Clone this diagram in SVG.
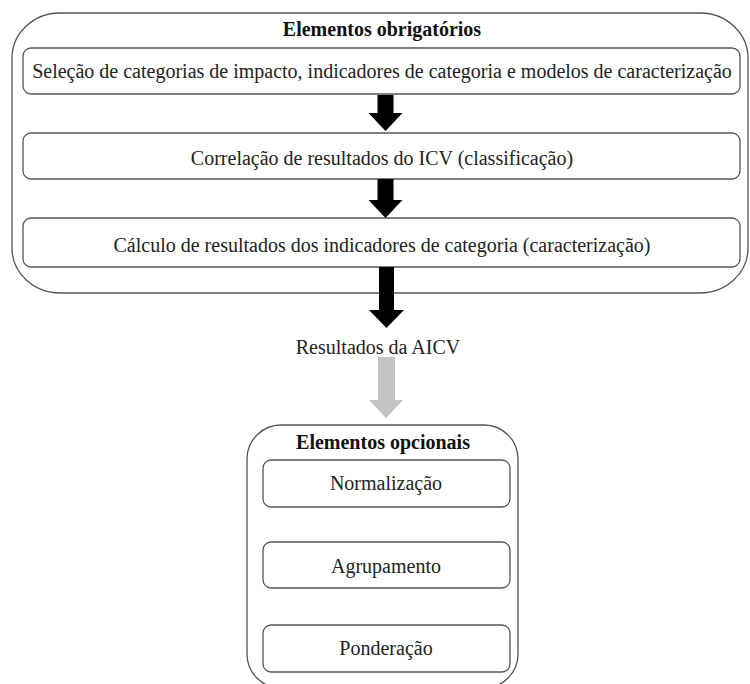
<svg xmlns="http://www.w3.org/2000/svg" width="750" height="684" viewBox="0 0 750 684">
  <style>
    .frame { fill: #fff; stroke: #555; stroke-width: 1.3; }
    .box { fill: #fff; stroke: #555; stroke-width: 1.3; }
    .t { font-family: "Liberation Serif", "Times New Roman", serif; font-size: 20px; fill: #222; text-anchor: middle; }
    .h { font-weight: bold; fill: #111; }
    .arrow-dark { fill: #000; }
    .arrow-light { fill: #c3c3c3; }
  </style>
  <rect width="750" height="684" fill="#fff"/>

  <g id="mandatory">
    <rect class="frame" x="12" y="13" width="736" height="280" rx="48" ry="45"/>
    <text class="t h" x="382" y="36">Elementos obrigatórios</text>
  </g>
  <g id="selection">
    <rect class="box" x="23" y="48" width="717" height="46" rx="8"/>
    <text class="t" x="382" y="78">Seleção de categorias de impacto, indicadores de categoria e modelos de caracterização</text>
  </g>
  <g id="classification">
    <rect class="box" x="23" y="133" width="717" height="46" rx="8"/>
    <text class="t" x="382" y="165">Correlação de resultados do ICV (classificação)</text>
  </g>
  <g id="characterization">
    <rect class="box" x="23" y="218" width="717" height="49" rx="8"/>
    <text class="t" x="382" y="252">Cálculo de resultados dos indicadores de categoria (caracterização)</text>
  </g>

  <g id="results">
    <text class="t" x="378" y="354">Resultados  da AICV</text>
  </g>

  <g id="optional">
    <rect class="frame" x="247" y="425" width="271" height="263" rx="34" ry="34"/>
    <text class="t h" x="383" y="449">Elementos opcionais</text>
  </g>
  <g id="normalization">
    <rect class="box" x="263" y="460" width="247" height="47" rx="8"/>
    <text class="t" x="386" y="490">Normalização</text>
  </g>
  <g id="grouping">
    <rect class="box" x="263" y="542" width="247" height="46" rx="8"/>
    <text class="t" x="386" y="573">Agrupamento</text>
  </g>
  <g id="weighting">
    <rect class="box" x="263" y="625" width="247" height="47" rx="8"/>
    <text class="t" x="386" y="655">Ponderação</text>
  </g>

  <g id="connectors">
    <polygon class="arrow-dark" points="377.5,95 393.5,95 393.5,113 402.5,113 385.5,131 368.5,113 377.5,113"/>
    <polygon class="arrow-dark" points="377.5,179 393.5,179 393.5,200 402.5,200 385.5,218 368.5,200 377.5,200"/>
    <polygon class="arrow-dark" points="379,267 394,267 394,310 404,310 386.5,328 369,310 379,310"/>
    <polygon class="arrow-light" points="378,357 395,357 395,400 403,400 386,418 369,400 378,400"/>
  </g>
</svg>
